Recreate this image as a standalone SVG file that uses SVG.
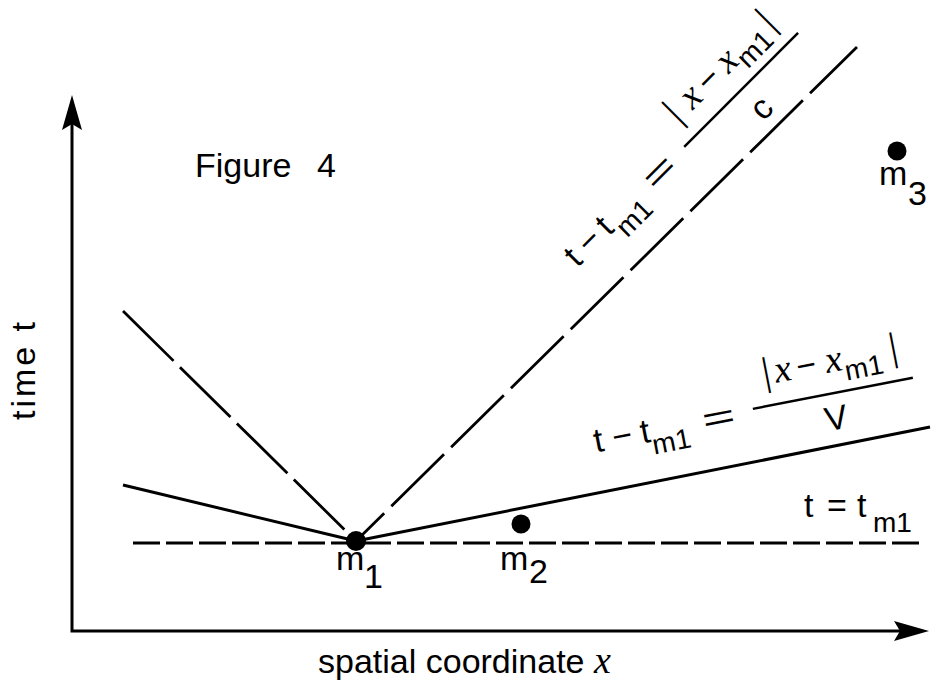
<svg xmlns="http://www.w3.org/2000/svg" width="931" height="689" viewBox="0 0 931 689">
<style>
.t{font-family:"Liberation Sans",Arial,sans-serif;font-size:34px;fill:#000}
.sub{font-size:28px}
.mi{font-family:"Liberation Serif","Times New Roman",serif;font-style:italic;font-size:38px}
.vb{font-family:"Liberation Serif","Times New Roman",serif;font-size:40px}
.ln{stroke:#000;stroke-width:3;fill:none}
.dl{stroke:#000;stroke-width:2.8;fill:none}
.rule{stroke:#000;stroke-width:2.5}
.dot{fill:#000}
</style>
<defs>
<marker id="arr" viewBox="0 -10 35 20" refX="6" refY="0" markerWidth="35" markerHeight="20" markerUnits="userSpaceOnUse" orient="auto-start-reverse">
<path d="M0,-10 L35,0 L0,10 L6,0 Z" fill="#000"/>
</marker>
</defs>
<rect width="931" height="689" fill="#fff"/>

<g id="axes">
<path class="ln" d="M72,124 V631 H900" marker-start="url(#arr)" marker-end="url(#arr)"/>
<text class="t" font-size="38" text-anchor="middle" textLength="98" transform="translate(35,371) rotate(-90)">time t</text>
<text class="t" x="318" y="673" font-size="35">spatial coordinate <tspan class="mi" font-size="36">x</tspan></text>
</g>

<g id="title">
<text class="t" x="195" y="177" font-size="35">Figure</text>
<text class="t" x="317" y="177" font-size="35">4</text>
</g>

<g id="connectors">
<line class="dl" x1="133" y1="543" x2="925" y2="543" stroke-dasharray="27 6"/>
<line class="dl" x1="123" y1="311" x2="356" y2="541" stroke-dasharray="71 9"/>
<line class="dl" x1="857" y1="47" x2="356" y2="541" stroke-dasharray="66 10 74 10 74 10 74 10 74 10 74 10 74 10 74 10 80"/>
<line class="ln" x1="123" y1="485" x2="356" y2="541"/>
<line class="ln" x1="356" y1="541" x2="930" y2="427"/>
</g>

<g id="m1">
<circle class="dot" cx="356" cy="541" r="10"/>
<text class="t" font-size="37" x="336" y="570">m</text>
<text class="t" font-size="32" x="364" y="588">1</text>
</g>
<g id="m2">
<circle class="dot" cx="521" cy="524" r="9.5"/>
<text class="t" font-size="37" x="500" y="570">m</text>
<text class="t" font-size="30" x="529" y="583">2</text>
</g>
<g id="m3">
<circle class="dot" cx="897" cy="151" r="9.5"/>
<text class="t" font-size="37" x="879" y="185">m</text>
<text class="t" font-size="32" x="908" y="205">3</text>
</g>

<g id="label-c" transform="rotate(-45)">
<text class="t" x="218.7" y="598">t</text>
<text class="t" x="236.5" y="598">−</text>
<text class="t" x="263.3" y="598">t</text>
<text class="t sub" x="275" y="612">m1</text>
<text class="t" x="327.5" y="599" textLength="34" lengthAdjust="spacingAndGlyphs">=</text>
<text class="vb" x="392" y="568">|</text>
<text class="mi" x="411.6" y="568">x</text>
<text class="t" x="435" y="568">−</text>
<text class="mi" x="462.6" y="568">x</text>
<text class="t sub" x="480" y="578">m1</text>
<text class="vb" x="523.5" y="568">|</text>
<line class="rule" x1="380" y1="587.6" x2="541" y2="587.6"/>
<text class="t" x="462" y="626" text-anchor="middle">c</text>
</g>

<g id="label-v" transform="rotate(-11)">
<text class="t" x="498.8" y="558">t</text>
<text class="t" x="517.6" y="558">−</text>
<text class="t" x="546" y="558">t</text>
<text class="t sub" x="555.5" y="571">m1</text>
<text class="t" x="609" y="558.5" textLength="33" lengthAdjust="spacingAndGlyphs">=</text>
<text class="vb" x="677" y="524">|</text>
<text class="mi" x="689.3" y="524">x</text>
<text class="t" x="711.5" y="524">−</text>
<text class="mi" x="740.8" y="524">x</text>
<text class="t sub" x="758.7" y="535">m1</text>
<text class="vb" x="806.4" y="524">|</text>
<line class="rule" x1="661" y1="545" x2="824" y2="545"/>
<text class="t" x="741" y="581.5" text-anchor="middle">V</text>
</g>

<g id="label-t">
<text class="t" x="804" y="517" font-size="36">t</text>
<text class="t" x="827" y="517" font-size="36">=</text>
<text class="t" x="857" y="517" font-size="36">t</text>
<text class="t sub" x="873" y="532">m1</text>
</g>
</svg>
